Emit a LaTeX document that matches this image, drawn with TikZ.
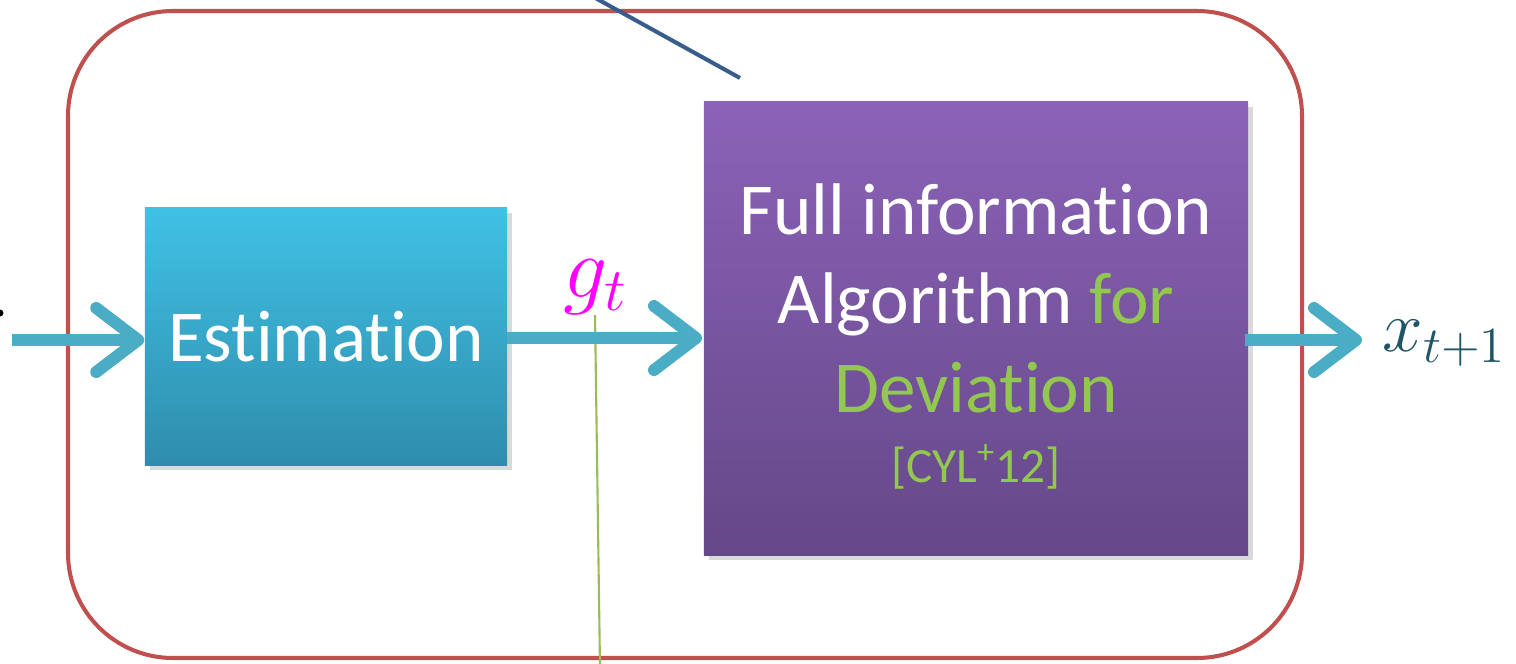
\documentclass[tikz,border=0pt]{standalone}
\usepackage{fontspec}
\setmainfont{Carlito}[Ligatures={NoCommon,NoRequired,NoContextual}]
\usetikzlibrary{arrows.meta,shadows,calc}
\definecolor{arrowc}{HTML}{4BACC6}
\definecolor{redc}{HTML}{C0504D}
\definecolor{bluec}{HTML}{385D8A}
\definecolor{greenl}{HTML}{9BBB59}
\definecolor{greent}{HTML}{92C84F}
\definecolor{cyantop}{HTML}{40C1E5}
\definecolor{cyanbot}{HTML}{2F8DAC}
\definecolor{purtop}{HTML}{8B62B8}
\definecolor{purbot}{HTML}{654888}
\definecolor{magc}{HTML}{FF00FF}
\definecolor{tealc}{HTML}{1F5566}
\tikzset{
  bigarrow/.style={draw=arrowc, line width=3.4pt,
    -{Straight Barb[length=4.2mm,width=6.4mm,round]}},
  boxstyle/.style={draw=none, inner sep=0pt, drop shadow={opacity=0.3,shadow xshift=0.5mm,shadow yshift=-0.5mm}},
}
\begin{document}
\begin{tikzpicture}[x=0.01cm,y=0.01cm]
\useasboundingbox (0,0) rectangle (1516,663);
% outer red rounded box
\draw[redc, line width=1.15pt, rounded corners=1.05cm] (68,652) rectangle (1302,5);
% estimation box
\node[boxstyle, minimum width=3.62cm, minimum height=2.57cm, top color=cyantop, bottom color=cyanbot,
  text=white, font=\fontsize{20.8}{25}\selectfont] (est) at (326,326.5) {Estimation};
% purple box
\node[boxstyle, minimum width=5.44cm, minimum height=4.53cm, top color=purtop, bottom color=purbot] (pur) at (976,334.5) {};
\node[text=white, align=center, font=\fontsize{20.8}{25.3}\selectfont, anchor=north] (ptext) at (976,492)
  {Full information\\Algorithm \textcolor{greent}{for}\\\textcolor{greent}{Deviation}};
\node[text=greent, font=\fontsize{14}{17}\selectfont] (cyl) at (976,196) {[CYL\textsuperscript{+}12]};
% lines
\coordinate (bA) at (590,668);
\coordinate (bB) at (740,585);
\draw[bluec, line width=1.15pt] (bA) -- (bB);
\coordinate (gA) at (595,348);
\coordinate (gB) at (600,-5);
\draw[greenl, line width=0.6pt] (gA) -- (gB);
% arrows
\coordinate (in) at (12,323);
\draw[bigarrow] (in) -- (in -| est.west);
\draw[bigarrow] (507,325) -- (702,325);
\coordinate (o1) at (1245,323);
\coordinate (o2) at (1362,323);
\draw[bigarrow] (o1) -- (o2);
% labels
\node[text=magc, font=\fontsize{26}{30}\selectfont] (g) at (596,376) {$g_t$};
\node[text=tealc, font=\fontsize{22}{26}\selectfont, anchor=west, inner sep=0pt] (x) at (1382,320) {$x_{t+1}$};
% cut-off dot
\fill[black] (0,350) circle (3.5);
\end{tikzpicture}
\end{document}
